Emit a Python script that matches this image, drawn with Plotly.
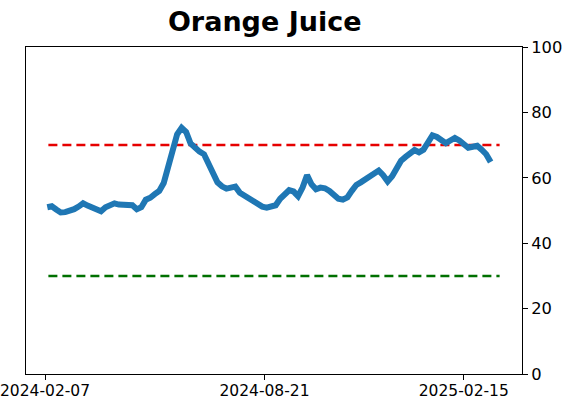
import pandas as pd
import plotly.graph_objects as go

title = "Orange Juice"
start_date = "2024-02-09"
step = "4D"
values = [
    51.0, 51.3, 50.3, 49.4, 49.5, 49.8, 50.4, 51.2, 52.2, 51.5,
    51.0, 50.6, 49.8, 51.0, 51.8, 52.2, 51.8, 51.6, 51.5, 51.6,
    50.4, 51.0, 53.3, 53.9, 55.0, 56.0, 58.4, 64.0, 68.8, 73.3,
    75.3, 74.0, 70.5, 69.0, 68.0, 67.2, 64.5, 61.8, 58.6, 57.4,
    56.7, 57.0, 57.3, 55.4, 54.6, 53.6, 52.6, 52.0, 51.2, 50.9,
    51.3, 51.6, 53.6, 54.8, 56.2, 55.8, 54.4, 57.0, 60.8, 58.0,
    56.5, 57.0, 56.8, 56.0, 55.0, 53.6, 53.3, 54.0, 56.0, 57.8,
    58.6, 59.6, 60.5, 61.3, 62.2, 60.8, 58.9, 60.5, 63.3, 65.2,
    66.4, 67.4, 68.5, 67.8, 68.6, 70.8, 73.0, 72.5, 71.4, 70.6,
    71.4, 72.2, 71.4, 70.0, 69.2, 69.5, 69.8, 68.6, 67.2, 64.8,
]
upper_level = 70
lower_level = 30
hline_start = "2024-02-10"
hline_end = "2025-03-19"
tick_dates = ["2024-02-07", "2024-08-21", "2025-02-15"]
y_ticks = [0, 20, 40, 60, 80, 100]
x_range = ["2024-01-21", "2025-04-08"]

dates = pd.date_range(start_date, periods=len(values), freq=step)

fig = go.Figure()
fig.add_trace(go.Scatter(
    x=[hline_start, hline_end], y=[upper_level, upper_level], mode="lines",
    line=dict(color="#e60000", width=2.5, dash="9px,5px"), showlegend=False, hoverinfo="skip"))
fig.add_trace(go.Scatter(
    x=[hline_start, hline_end], y=[lower_level, lower_level], mode="lines",
    line=dict(color="#007000", width=2.5, dash="9px,5px"), showlegend=False, hoverinfo="skip"))
fig.add_trace(go.Scatter(
    x=dates, y=values, mode="lines",
    line=dict(color="#1f77b4", width=6), showlegend=False))

font = "DejaVu Sans, Liberation Sans, sans-serif"
fs = 16.3
fig.update_layout(
    width=562, height=402,
    margin=dict(l=26, r=40, t=47, b=28, autoexpand=False),
    paper_bgcolor="white", plot_bgcolor="white",
    title=dict(text="<b>" + title + "</b>", x=0.471, xanchor="center", y=0.97, yanchor="top",
               font=dict(family=font, size=27, color="black")),
    font=dict(family=font, size=fs, color="black"),
)
fig.update_xaxes(
    type="date", range=x_range, tickvals=tick_dates, ticktext=tick_dates,
    automargin=False, ticklabeloverflow="allow", ticklabelstandoff=-3,
    showgrid=False, zeroline=False, showline=True, linecolor="black", linewidth=1, mirror=True,
    ticks="outside", ticklen=5, tickcolor="black", tickfont=dict(size=15.5, color="black"))
fig.update_yaxes(
    side="right", range=[0, 100], tickvals=y_ticks,
    automargin=False, ticklabeloverflow="allow",
    showgrid=False, zeroline=False, showline=True, linecolor="black", linewidth=1, mirror=True,
    ticks="outside", ticklen=5, tickcolor="black", tickfont=dict(size=fs, color="black"))

fig.write_html("out.html")
